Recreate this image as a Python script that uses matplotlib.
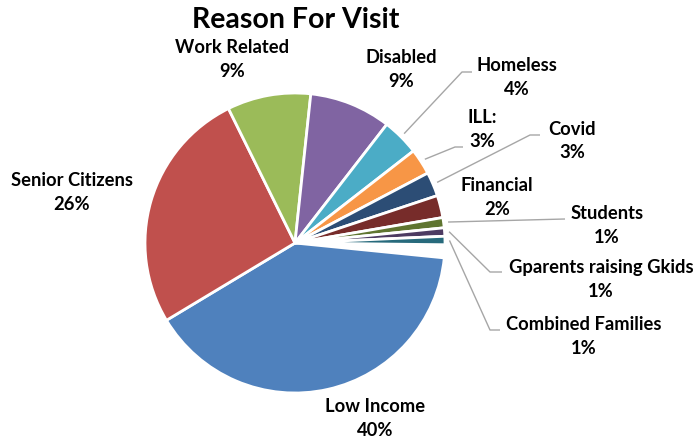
import matplotlib
matplotlib.use("Agg")
import matplotlib.pyplot as plt
import numpy as np

# ---- data ----
categories = ["Low Income", "Senior Citizens", "Work Related", "Disabled", "Homeless",
              "ILL:", "Covid", "Financial", "Students", "Gparents raising Gkids",
              "Combined Families", ""]
values = [39.8, 26.3, 9.0, 8.8, 4.0, 2.8, 2.6, 2.4, 1.1, 0.9, 0.9, 1.4]
colors = ["#4F81BD", "#C0504D", "#9BBB59", "#8064A2", "#4BACC6", "#F79646",
          "#2C4D75", "#772C2A", "#5F7530", "#4D3B62", "#276A7C", "white"]
title = "Reason For Visit"

# ---- layout (pixel positions in the 700x441 image) ----
W, H = 700, 441
CX, CY, R = 295, 243, 150

def px(x, y):
    return ((x - CX) / R, (CY - y) / R)

label_pos = {
    "Low Income": (375, 418.5),
    "Senior Citizens": (72, 192.5),
    "Work Related": (232, 59.5),
    "Disabled": (401, 69.5),
    "Homeless": (517, 77.5),
    "ILL:": (482, 129.5),
    "Covid": (572, 141),
    "Financial": (497, 197.5),
    "Students": (607, 225.5),
    "Gparents raising Gkids": (601, 279.5),
    "Combined Families": (584, 336.5),
}
leader = {
    "Homeless": [(462, 72), (472, 72)],
    "ILL:": [(455, 147), (463, 147)],
    "Covid": [(530, 135), (540, 135)],
    "Students": [(565, 219)],
    "Gparents raising Gkids": [(490, 272), (502, 272)],
    "Combined Families": [(490, 330), (500, 330)],
}

plt.rcParams['font.family'] = ['Lato', 'DejaVu Sans']
fig = plt.figure(figsize=(W / 100, H / 100), dpi=100)
ax = fig.add_axes([0, 0, 1, 1])
ax.set_aspect('equal')
ax.axis('off')

total = sum(values)
wedges, _ = ax.pie(values, colors=colors, startangle=-5.7, counterclock=False,
                   radius=1, center=(0, 0),
                   wedgeprops=dict(edgecolor='white', linewidth=2))
wedges[-1].set_edgecolor('none')
wedges[-1].set_facecolor('none')
ax.set_xlim(-CX / R, (W - CX) / R)
ax.set_ylim(-(H - CY) / R, CY / R)

for w, cat, v in zip(wedges, categories, values):
    if not cat:
        continue
    pct = round(v / total * 100)
    x, y = px(*label_pos[cat])
    ax.text(x, y, f"{cat}\n{pct}%", ha='center', va='center', fontsize=13.2,
            fontweight='bold', linespacing=1.48, color='black')
    if cat in leader:
        mid = np.deg2rad((w.theta1 + w.theta2) / 2)
        pts = [(1.03 * np.cos(mid), 1.03 * np.sin(mid))] + [px(*p) for p in leader[cat]]
        xs, ys = zip(*pts)
        ax.plot(xs, ys, color='#A6A6A6', lw=1.0, solid_capstyle='butt')

tx, ty = px(296, 20)
ax.text(tx, ty, title, ha='center', va='center', fontsize=20.5, fontweight='bold')

fig.savefig("out.png", dpi=100)
